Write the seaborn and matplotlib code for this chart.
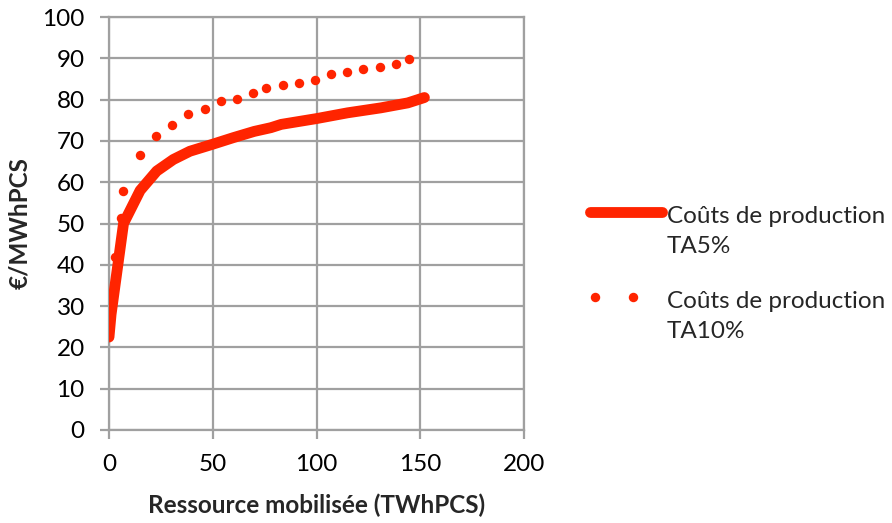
import matplotlib
matplotlib.use('Agg')
import matplotlib.pyplot as plt
from matplotlib.lines import Line2D
import seaborn as sns
import pandas as pd

# Coûts de production TA5% (solid curve)
ta5_x = [0, 1, 7, 15, 23, 31, 39, 50, 60, 70, 78, 83, 100, 115, 131, 144, 152]
ta5_y = [22.5, 28, 50, 58, 62.7, 65.5, 67.5, 69.2, 70.8, 72.3, 73.2, 74, 75.4, 76.8, 78, 79.2, 80.5]

# Coûts de production TA10% (dotted)
ta10_x = [0, 0.3, 2.8, 5.6, 6.9, 15.0, 22.7, 30.4, 38.3, 46.1, 53.9, 61.5, 69.3, 75.9,
          83.7, 91.4, 99.2, 107.1, 114.8, 122.5, 130.4, 138.2, 144.7]
ta10_y = [25, 32.3, 41.9, 51.4, 57.9, 66.7, 71.3, 73.8, 76.4, 77.7, 79.6, 80.2, 81.5, 82.8,
          83.5, 84.1, 84.7, 86.1, 86.6, 87.3, 87.9, 88.6, 89.9]

label_ta5 = "Coûts de production\nTA5%"
label_ta10 = "Coûts de production\nTA10%"
x_ticks = [0, 50, 100, 150, 200]
y_ticks = list(range(0, 101, 10))

red = '#FF2400'
grey = '#A0A0A0'
fs = 17.5

sns.set_theme(style='whitegrid')
plt.rcParams['font.family'] = ['Lato', 'DejaVu Sans']

df5 = pd.DataFrame({'x': ta5_x, 'y': ta5_y})
df10 = pd.DataFrame({'x': ta10_x, 'y': ta10_y})

W = 892.0
H = 523.0
fig = plt.figure(figsize=(8.92, 5.23), dpi=100)
ax = fig.add_axes([109 / W, 1 - 430 / H, (524 - 109) / W, (430 - 17) / H])

sns.lineplot(data=df10, x='x', y='y', ax=ax, color=red, linestyle='none',
             marker='o', markersize=6.8, markeredgewidth=0, sort=False, zorder=3)
sns.lineplot(data=df5, x='x', y='y', ax=ax, color=red, linewidth=7.8,
             solid_capstyle='round', sort=False, zorder=4)

ax.set_xlim(0, 200)
ax.set_ylim(0, 100)
ax.set_xticks(x_ticks)
ax.set_yticks(y_ticks)
ax.grid(True, color=grey, linewidth=1.6)
ax.set_axisbelow(True)
for s in ax.spines.values():
    s.set_color(grey)
    s.set_linewidth(1.6)
ax.tick_params(axis='both', which='major', direction='out', length=6.5, width=1.6,
               color=grey, labelsize=fs, labelcolor='black', pad=11,
               left=True, bottom=True)

ax.set_xlabel('Ressource mobilisée (TWhPCS)', fontsize=fs, fontweight='bold')
ax.set_ylabel('€/MWhPCS', fontsize=fs, fontweight='bold')
ax.xaxis.set_label_coords(0.5, (430 - 505) / 413.0)
ax.yaxis.set_label_coords((20 - 109) / 415.0, 0.5)
ax.xaxis.label.set_va('center')
ax.yaxis.label.set_va('center')

# legend, drawn by hand so the handle sits on the first text line
fig.add_artist(Line2D([590 / W, 662 / W], [1 - 212 / H, 1 - 212 / H], color=red,
                      linewidth=7.8, solid_capstyle='round', transform=fig.transFigure))
fig.add_artist(Line2D([595 / W, 633 / W], [1 - 297 / H, 1 - 297 / H], color=red,
                      linestyle='none', marker='o', markersize=6.8, markeredgewidth=0,
                      transform=fig.transFigure))
for lbl, base in [(label_ta5, 223), (label_ta10, 308)]:
    first, second = lbl.split('\n')
    fig.text(667 / W, 1 - base / H, first, fontsize=fs, va='baseline', ha='left')
    fig.text(667 / W, 1 - (base + 30) / H, second, fontsize=fs, va='baseline', ha='left')

fig.savefig('out.png', dpi=100)
